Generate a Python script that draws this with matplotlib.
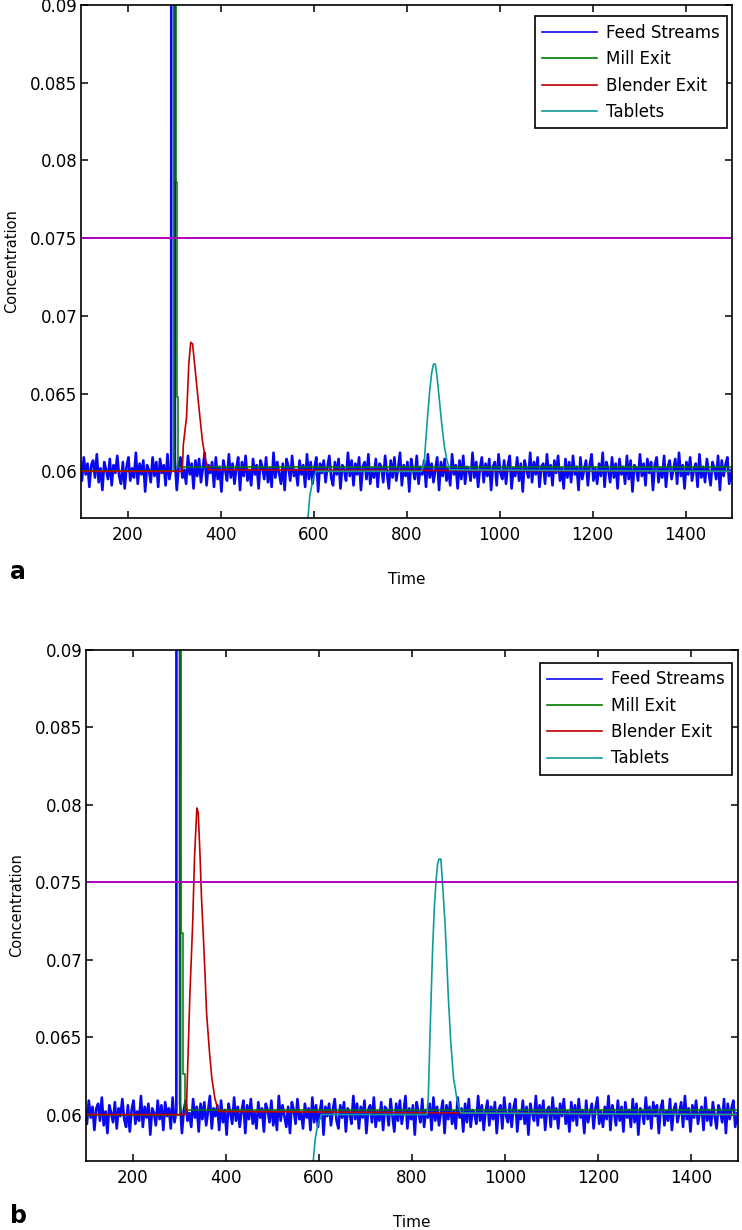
import matplotlib
matplotlib.use("Agg")
import matplotlib.pyplot as plt
import numpy as np

plt.rcParams['font.family'] = ['DejaVu Sans']

# ---- data ----
# feed streams: noise around 0.060, deviations in units of 1e-4, one value every 4 time units from t=98
feed_start, feed_step = 98, 4
feed_base = 0.0600
feed_dev = [
    3, -6, 9, -2, 5, -10, 4, 7, -4, 11, -7, 2, -12, 6, 1, -5, 8, -9, 4, -1,
    10, -3, -8, 6, -11, 3, 9, -6, 2, -4, 12, -8, 5, -2, 7, -13, 4, 1, -7, 9,
    -3, 6, -10, 8, -1, 4, -9, 11, -5, 2, -6, 7, -12, 3, 9, -4, 1, -8, 10, -2,
    5, -11, 7, -3, 8, -7, 2, 12, -9, 4, -1, 6, -10, 9, -5, 3, -13, 7, 1, -6,
    11, -4, 5, -8, 2, 9, -12, 6, -3, 10, -6, 1, -9, 8, -2, 4, -11, 7, 3, -5,
    9, -7, 2, -10, 12, -4, 6, -1, -8, 5, -12, 8, 3, -6, 10, -3, 1, -9, 7, -2,
    4, -10, 11, -5, 6, -8, 2, 9, -13, 5, -1, 7, -7, 3, 10, -4, -9, 6, -2, 8,
    -11, 4, 1, -6, 12, -3, 7, -9, 5, -2, 9, -12, 3, 6, -5, 11, -8, 2, -4, 8,
    -10, 5, 3, -7, 10, -1, -11, 7, -4, 9, -6, 2, 12, -9, 4, -3, 6, -13, 8, 1,
    -5, 10, -8, 3, -2, 7, -10, 11, -4, 5, -7, 1, 9, -12, 6, -3, 8, -6, 2, -9,
    11, -2, 4, -11, 7, -5, 10, -8, 3, 1, -6, 12, -4, 6, -10, 2, 9, -7, 5, -3,
    8, -12, 3, 6, -9, 11, -1, -5, 7, -8, 4, 10, -11, 2, -3, 9, -6, 5, -13, 7,
    1, -4, 12, -7, 6, -2, 9, -10, 3, 5, -8, 11, -3, 4, -9, 7, -1, 10, -6, 2,
    -11, 8, -4, 6, -7, 10, -2, 3, -12, 9, -5, 1, 7, -9, 4, 11, -6, 2, -8, 5,
    -3, 12, -10, 6, 1, -7, 9, -4, 5, -11, 8, -2, 3, -8, 10, -5, 7, -13, 4, 2,
    -6, 11, -3, 5, -9, 8, -1, 6, -12, 4, 9, -7, 2, -4, 10, -10, 3, 7, -5, 1,
    8, -8, 12, -3, 4, -11, 6, -2, 9, -6, 1, 5, -10, 11, -4, 3, -7, 8, -1, -9,
    6, 2, -5, 10, -12, 7, -3, 4, 9, -8, 1, -6, 11, -2, 5, -10, 8, -4, 3, -7,
]
feed_spike_time = 298
feed_spike_value = 1.0

# mill exit (step shape)
mill_time_a = [100, 301, 303.5, 305.5, 309.5, 1500]
mill_a = [0.0600, 1.0, 0.0786, 0.0648, 0.0603, 0.0600]
mill_time_b = [100, 301, 305, 309, 312.5, 1500]
mill_b = [0.0600, 1.0, 0.0717, 0.0626, 0.0603, 0.0600]

# blender exit
blend_time_a = [100, 318, 320, 327, 332, 336, 340, 348, 355, 361, 368, 375, 1500]
blend_a = [0.0600, 0.0600, 0.0617, 0.0635, 0.0670, 0.0683, 0.0682, 0.0658, 0.0637,
           0.0620, 0.0607, 0.0601, 0.0600]
blend_time_b = [100, 314, 316, 323, 329, 333, 338, 341, 345, 348, 352, 355.5, 359,
                365, 370, 377, 385, 1500]
blend_b = [0.0600, 0.0600, 0.0607, 0.0677, 0.0723, 0.0766, 0.0798, 0.0795, 0.0766,
           0.0740, 0.0715, 0.0691, 0.0665, 0.0641, 0.0624, 0.0610, 0.0602, 0.0600]

# tablets
tab_time_a = [584, 588, 592, 598, 606, 832, 838, 842, 846, 850, 854, 858, 862, 866,
              871, 876, 881, 887, 893, 1500]
tab_a = [0.0500, 0.0570, 0.0584, 0.0594, 0.0600, 0.0600, 0.0605, 0.0622, 0.0638,
         0.0652, 0.0663, 0.0669, 0.0669, 0.0660, 0.0645, 0.0630, 0.0617, 0.0607,
         0.0601, 0.0600]
tab_time_b = [584, 588, 592, 598, 606, 832, 835, 838.7, 842, 844.4, 848, 851.6, 855,
              858, 862, 865, 871, 874.5, 878, 883, 889, 897, 905, 1500]
tab_b = [0.0500, 0.0570, 0.0584, 0.0594, 0.0600, 0.0600, 0.0611, 0.0652, 0.0685,
         0.0708, 0.0734, 0.0751, 0.0762, 0.0765, 0.0765, 0.0752, 0.0723, 0.0700,
         0.0676, 0.0648, 0.0624, 0.0609, 0.0601, 0.0600]

limit_value = 0.075
labels = ['Feed Streams', 'Mill Exit', 'Blender Exit', 'Tablets']
xticks = [200, 400, 600, 800, 1000, 1200, 1400]
yticks = [0.06, 0.065, 0.07, 0.075, 0.08, 0.085, 0.09]

# colours
c_feed = '#0808f0'
c_mill = '#007a00'
c_blend = '#c00000'
c_tab = '#109a9a'
c_limit = '#b000c0'

feed_time = np.arange(len(feed_dev)) * feed_step + feed_start
feed = feed_base + np.array(feed_dev) * 1e-4
feed[feed_time == feed_spike_time] = feed_spike_value

fig = plt.figure(figsize=(7.42, 12.30), dpi=100)
W, H = 742.0, 1230.0

panels = [
    # (left, top, right, bottom) in pixels, mill, blender, tablets, letter y, legend anchor
    ((81, 5, 732, 518), (mill_time_a, mill_a), (blend_time_a, blend_a),
     (tab_time_a, tab_a), 572, (0.9923, 0.9776), 'a'),
    ((86, 650, 738, 1161), (mill_time_b, mill_b), (blend_time_b, blend_b),
     (tab_time_b, tab_b), 1216, (0.9908, 0.9746), 'b'),
]

for (l, t, r, b), mill, blend, tab, letter_y, anchor, letter in panels:
    ax = fig.add_axes([l / W, 1 - b / H, (r - l) / W, (b - t) / H])
    h1, = ax.plot(feed_time, feed, color=c_feed, lw=1.9)
    h2, = ax.plot(mill[0], mill[1], color=c_mill, lw=1.1, drawstyle='steps-post')
    h3, = ax.plot(blend[0], blend[1], color=c_blend, lw=1.2)
    h4, = ax.plot(tab[0], tab[1], color=c_tab, lw=1.2)
    ax.axhline(limit_value, color=c_limit, lw=1.4)

    ax.set_xlim(100, 1500)
    ax.set_ylim(0.057, 0.09)
    ax.set_xticks(xticks)
    ax.set_yticks(yticks)
    ax.set_yticklabels(['%g' % v for v in yticks])
    ax.tick_params(direction='in', length=5, width=1.1, top=True, right=True,
                   labelsize=12)
    ax.tick_params(axis='x', pad=6)
    ax.tick_params(axis='y', pad=2.5)
    for s in ax.spines.values():
        s.set_linewidth(1.2)
    ax.set_xlabel('Time', fontsize=11, labelpad=20)
    ax.set_ylabel('Concentration', fontsize=10.5, labelpad=8)

    leg = ax.legend([h1, h2, h3, h4], labels, loc='upper right', bbox_to_anchor=anchor,
                    borderaxespad=0, fontsize=12, handlelength=3.3, labelspacing=0.5,
                    fancybox=False, framealpha=1, edgecolor='black',
                    borderpad=0.45, handletextpad=0.5)
    leg.get_frame().set_linewidth(1.2)
    for line in leg.get_lines():
        line.set_linewidth(1.2)

    fig.text(10 / W, 1 - letter_y / H, letter, fontsize=17,
             fontweight='bold', va='center', ha='left')

fig.savefig('out.png', dpi=100)
